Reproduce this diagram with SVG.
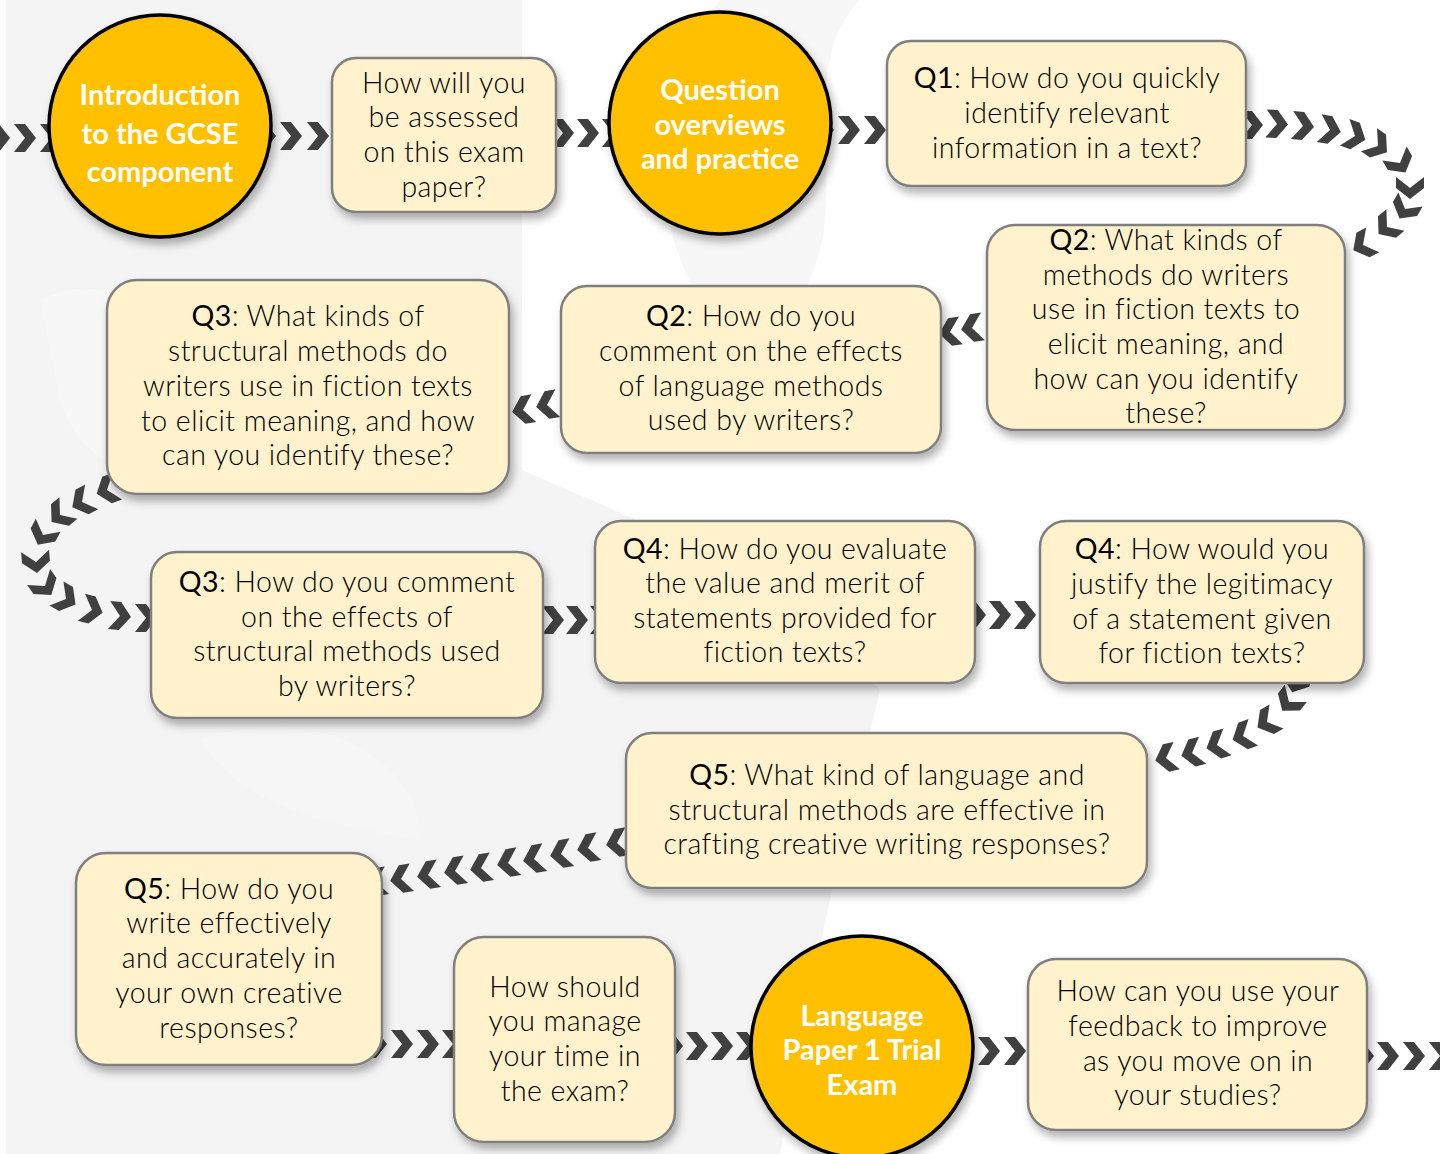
<svg xmlns="http://www.w3.org/2000/svg" xmlns:xlink="http://www.w3.org/1999/xlink" width="1440" height="1154" viewBox="0 0 1440 1154">
<defs>
<filter id="sh" x="-20%" y="-20%" width="140%" height="150%">
<feDropShadow dx="3" dy="6" stdDeviation="4" flood-color="#000" flood-opacity="0.3"/>
</filter>
<path id="chev" d="M-11,-14 L0,-14 L11,0 L0,14 L-11,14 L0,0 Z"/>
<style>
.box rect{fill:#FFF2CC;stroke:#7F7F7F;stroke-width:2.5;filter:url(#sh)}
.circ circle{fill:#FFC000;stroke:#000;stroke-width:3.5;filter:url(#sh)}
.t{font-family:Lato,"Open Sans","Liberation Sans",sans-serif;font-size:28.5px;letter-spacing:0.45px;font-weight:300;fill:#000;text-anchor:middle}
.q{font-weight:400}
.ct{font-family:Lato,"Open Sans","Liberation Sans",sans-serif;font-size:29px;font-weight:700;fill:#fff;text-anchor:middle}
#connectors use{fill:#404040}
</style>
</defs>
<rect x="0" y="0" width="1440" height="1154" fill="#fff"/>
<g id="watermark">
<path d="M6,0 H522 V470 C610,510 760,560 880,690 C860,780 820,920 780,1154 H6 Z" fill="#f4f4f4"/>
<path d="M720,0 C660,80 640,200 700,300 C740,360 800,330 820,250 C840,170 800,60 860,0 Z" fill="#f7f7f7"/>
<path d="M40,300 C120,260 200,330 180,420 C160,500 80,470 60,400 Z" fill="#f7f7f7"/>
<path d="M200,740 C320,700 420,760 420,840 C300,820 240,800 200,740 Z" fill="#f6f6f6"/>
</g>
<g id="connectors">
<use href="#chev" transform="translate(-1 138)"/>
<use href="#chev" transform="translate(25 138)"/>
<use href="#chev" transform="translate(51 138)"/>
<use href="#chev" transform="translate(265 136)"/>
<use href="#chev" transform="translate(291 136)"/>
<use href="#chev" transform="translate(318 136)"/>
<use href="#chev" transform="translate(563 133)"/>
<use href="#chev" transform="translate(588 133)"/>
<use href="#chev" transform="translate(613 133)"/>
<use href="#chev" transform="translate(823 130)"/>
<use href="#chev" transform="translate(849 130)"/>
<use href="#chev" transform="translate(875 130)"/>
<use href="#chev" transform="translate(1252 125)"/>
<use href="#chev" transform="translate(1277 124) rotate(3)"/>
<use href="#chev" transform="translate(1303 126) rotate(5)"/>
<use href="#chev" transform="translate(1330 130) rotate(10)"/>
<use href="#chev" transform="translate(1355 136) rotate(20)"/>
<use href="#chev" transform="translate(1378 146) rotate(35)"/>
<use href="#chev" transform="translate(1400 163) rotate(60)"/>
<use href="#chev" transform="translate(1410 188) rotate(90)"/>
<use href="#chev" transform="translate(1405 209) rotate(120)"/>
<use href="#chev" transform="translate(1387 227) rotate(140)"/>
<use href="#chev" transform="translate(1363 245) rotate(152)"/>
<use href="#chev" transform="translate(950 332) rotate(172)"/>
<use href="#chev" transform="translate(972 328) rotate(172)"/>
<use href="#chev" transform="translate(523 410) rotate(170)"/>
<use href="#chev" transform="translate(547 405) rotate(170)"/>
<use href="#chev" transform="translate(107 490) rotate(160)"/>
<use href="#chev" transform="translate(82 502) rotate(152)"/>
<use href="#chev" transform="translate(60 515) rotate(140)"/>
<use href="#chev" transform="translate(43 535) rotate(118)"/>
<use href="#chev" transform="translate(36 562) rotate(85)"/>
<use href="#chev" transform="translate(45 586) rotate(55)"/>
<use href="#chev" transform="translate(66 599) rotate(30)"/>
<use href="#chev" transform="translate(92 610) rotate(15)"/>
<use href="#chev" transform="translate(120 616) rotate(5)"/>
<use href="#chev" transform="translate(146 618)"/>
<use href="#chev" transform="translate(553 620)"/>
<use href="#chev" transform="translate(577 620)"/>
<use href="#chev" transform="translate(601 620)"/>
<use href="#chev" transform="translate(975 615)"/>
<use href="#chev" transform="translate(1000 615)"/>
<use href="#chev" transform="translate(1025 615)"/>
<use href="#chev" transform="translate(1296 682) rotate(110)"/>
<use href="#chev" transform="translate(1289 702) rotate(128)"/>
<use href="#chev" transform="translate(1267 722) rotate(150)"/>
<use href="#chev" transform="translate(1243 736) rotate(160)"/>
<use href="#chev" transform="translate(1217 745) rotate(163)"/>
<use href="#chev" transform="translate(1192 753) rotate(165)"/>
<use href="#chev" transform="translate(1166 758) rotate(167)"/>
<use href="#chev" transform="translate(617 843) rotate(170)"/>
<use href="#chev" transform="translate(588 848) rotate(170)"/>
<use href="#chev" transform="translate(561 854) rotate(170)"/>
<use href="#chev" transform="translate(534 859) rotate(170)"/>
<use href="#chev" transform="translate(508 863) rotate(170)"/>
<use href="#chev" transform="translate(481 868) rotate(171)"/>
<use href="#chev" transform="translate(455 871) rotate(171)"/>
<use href="#chev" transform="translate(428 875) rotate(171)"/>
<use href="#chev" transform="translate(401 879) rotate(171)"/>
<use href="#chev" transform="translate(376 882) rotate(171)"/>
<use href="#chev" transform="translate(376 1044)"/>
<use href="#chev" transform="translate(402 1044)"/>
<use href="#chev" transform="translate(428 1044)"/>
<use href="#chev" transform="translate(453 1044)"/>
<use href="#chev" transform="translate(672 1046)"/>
<use href="#chev" transform="translate(697 1046)"/>
<use href="#chev" transform="translate(722 1046)"/>
<use href="#chev" transform="translate(747 1046)"/>
<use href="#chev" transform="translate(963 1051)"/>
<use href="#chev" transform="translate(989 1051)"/>
<use href="#chev" transform="translate(1015 1051)"/>
<use href="#chev" transform="translate(1363 1056)"/>
<use href="#chev" transform="translate(1388 1056)"/>
<use href="#chev" transform="translate(1414 1056)"/>
<use href="#chev" transform="translate(1440 1056)"/>
</g>
<g id="n-intro" class="circ">
<circle cx="160" cy="126" r="111"/>
<text class="ct" x="160" y="105">Introduction</text>
<text class="ct" x="160" y="144">to the GCSE</text>
<text class="ct" x="160" y="182">component</text>
</g>
<g id="n-assessed" class="box">
<rect x="332" y="58" width="224" height="154" rx="24"/>
<text class="t" x="444" y="93">How will you</text>
<text class="t" x="444" y="127">be assessed</text>
<text class="t" x="444" y="162">on this exam</text>
<text class="t" x="444" y="197">paper?</text>
</g>
<g id="n-overviews" class="circ">
<circle cx="720" cy="123" r="111"/>
<text class="ct" x="720" y="100">Question</text>
<text class="ct" x="720" y="135">overviews</text>
<text class="ct" x="720" y="169">and practice</text>
</g>
<g id="n-q1" class="box">
<rect x="887" y="41" width="359" height="145" rx="24"/>
<text class="t" x="1067" y="88"><tspan class="q">Q1</tspan>: How do you quickly</text>
<text class="t" x="1067" y="123">identify relevant</text>
<text class="t" x="1067" y="158">information in a text?</text>
</g>
<g id="n-q2a" class="box">
<rect x="987" y="225" width="358" height="205" rx="28"/>
<text class="t" x="1166" y="250"><tspan class="q">Q2</tspan>: What kinds of</text>
<text class="t" x="1166" y="285">methods do writers</text>
<text class="t" x="1166" y="319">use in fiction texts to</text>
<text class="t" x="1166" y="354">elicit meaning, and</text>
<text class="t" x="1166" y="389">how can you identify</text>
<text class="t" x="1166" y="423">these?</text>
</g>
<g id="n-q2b" class="box">
<rect x="561" y="286" width="380" height="167" rx="26"/>
<text class="t" x="751" y="326"><tspan class="q">Q2</tspan>: How do you</text>
<text class="t" x="751" y="361">comment on the effects</text>
<text class="t" x="751" y="396">of language methods</text>
<text class="t" x="751" y="430">used by writers?</text>
</g>
<g id="n-q3a" class="box">
<rect x="107" y="280" width="402" height="214" rx="30"/>
<text class="t" x="308" y="326"><tspan class="q">Q3</tspan>: What kinds of</text>
<text class="t" x="308" y="361">structural methods do</text>
<text class="t" x="308" y="396">writers use in fiction texts</text>
<text class="t" x="308" y="431">to elicit meaning, and how</text>
<text class="t" x="308" y="465">can you identify these?</text>
</g>
<g id="n-q3b" class="box">
<rect x="151" y="552" width="392" height="166" rx="26"/>
<text class="t" x="347" y="592"><tspan class="q">Q3</tspan>: How do you comment</text>
<text class="t" x="347" y="627">on the effects of</text>
<text class="t" x="347" y="661">structural methods used</text>
<text class="t" x="347" y="696">by writers?</text>
</g>
<g id="n-q4a" class="box">
<rect x="595" y="521" width="380" height="162" rx="26"/>
<text class="t" x="785" y="559"><tspan class="q">Q4</tspan>: How do you evaluate</text>
<text class="t" x="785" y="593">the value and merit of</text>
<text class="t" x="785" y="628">statements provided for</text>
<text class="t" x="785" y="662">fiction texts?</text>
</g>
<g id="n-q4b" class="box">
<rect x="1040" y="521" width="324" height="162" rx="26"/>
<text class="t" x="1202" y="559"><tspan class="q">Q4</tspan>: How would you</text>
<text class="t" x="1202" y="594">justify the legitimacy</text>
<text class="t" x="1202" y="629">of a statement given</text>
<text class="t" x="1202" y="663">for fiction texts?</text>
</g>
<g id="n-q5a" class="box">
<rect x="626" y="733" width="521" height="155" rx="26"/>
<text class="t" x="887" y="785"><tspan class="q">Q5</tspan>: What kind of language and</text>
<text class="t" x="887" y="820">structural methods are effective in</text>
<text class="t" x="887" y="854">crafting creative writing responses?</text>
</g>
<g id="n-q5b" class="box">
<rect x="76" y="853" width="306" height="212" rx="30"/>
<text class="t" x="229" y="899"><tspan class="q">Q5</tspan>: How do you</text>
<text class="t" x="229" y="933">write effectively</text>
<text class="t" x="229" y="968">and accurately in</text>
<text class="t" x="229" y="1003">your own creative</text>
<text class="t" x="229" y="1038">responses?</text>
</g>
<g id="n-time" class="box">
<rect x="454" y="937" width="221" height="205" rx="30"/>
<text class="t" x="565" y="997">How should</text>
<text class="t" x="565" y="1031">you manage</text>
<text class="t" x="565" y="1066">your time in</text>
<text class="t" x="565" y="1101">the exam?</text>
</g>
<g id="n-trial" class="circ">
<circle cx="862" cy="1047" r="111"/>
<text class="ct" x="862" y="1026">Language</text>
<text class="ct" x="862" y="1060">Paper 1 Trial</text>
<text class="ct" x="862" y="1095">Exam</text>
</g>
<g id="n-feedback" class="box">
<rect x="1028" y="959" width="339" height="171" rx="28"/>
<text class="t" x="1198" y="1001">How can you use your</text>
<text class="t" x="1198" y="1036">feedback to improve</text>
<text class="t" x="1198" y="1071">as you move on in</text>
<text class="t" x="1198" y="1105">your studies?</text>
</g>
</svg>
